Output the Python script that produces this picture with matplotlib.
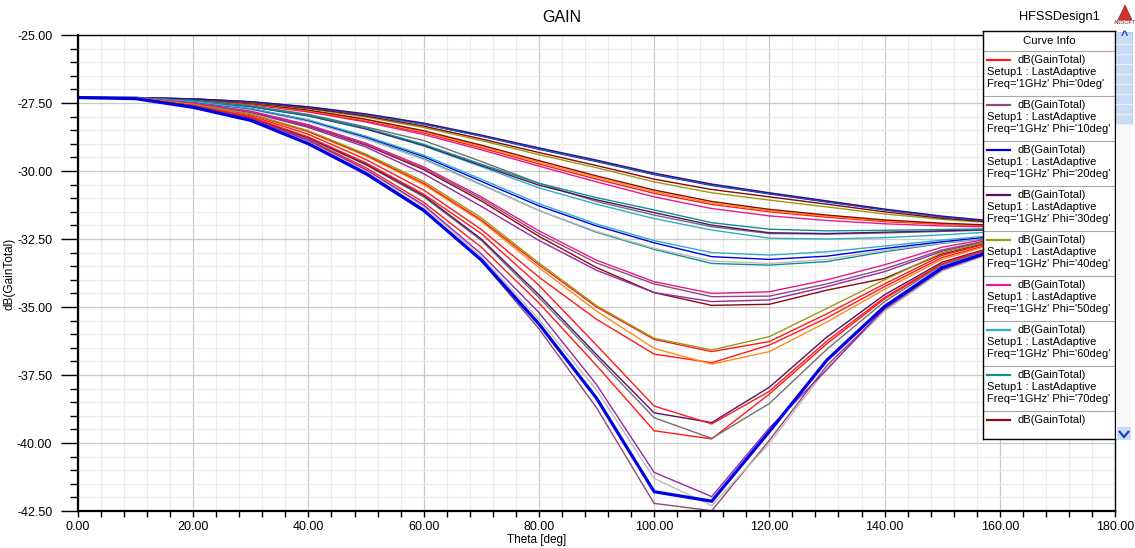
import numpy as np
import matplotlib.pyplot as plt
from matplotlib.patches import Rectangle, Polygon
from matplotlib.ticker import MultipleLocator, FormatStrFormatter

plt.rcParams['font.family'] = ['Liberation Sans', 'DejaVu Sans']

W, H = 1135, 548

theta = [0, 10, 20, 30, 40, 50, 60, 70, 80, 90, 100, 110, 120, 130, 140, 150, 160, 170, 180]

# deepest null group
a_blue = [-27.30, -27.34, -27.66, -28.14, -29.00, -30.10, -31.45, -33.27, -35.62, -38.35, -41.79, -42.14, -39.58, -36.95, -34.98, -33.55, -32.85, -32.35, -32.10]
a_mauve = [-27.30, -27.35, -27.66, -28.12, -28.96, -30.05, -31.40, -33.30, -35.80, -38.70, -42.22, -42.49, -39.90, -37.15, -35.10, -33.65, -32.90, -32.38, -32.10]
a_lgray = [-27.30, -27.34, -27.64, -28.10, -28.92, -29.98, -31.30, -33.15, -35.45, -38.05, -41.30, -42.30, -40.02, -37.25, -35.15, -33.68, -32.92, -32.40, -32.10]
a_purple = [-27.30, -27.34, -27.63, -28.08, -28.88, -29.95, -31.25, -33.05, -35.20, -37.85, -41.08, -41.97, -39.45, -37.30, -35.05, -33.62, -32.88, -32.36, -32.10]

b_red1 = [-27.30, -27.33, -27.60, -28.02, -28.75, -29.70, -30.85, -32.30, -34.20, -36.40, -38.64, -39.30, -38.10, -36.25, -34.65, -33.40, -32.75, -32.30, -32.10]
b_dpurple = [-27.30, -27.33, -27.60, -28.03, -28.78, -29.75, -30.90, -32.50, -34.55, -36.75, -38.89, -39.25, -37.95, -36.10, -34.55, -33.35, -32.72, -32.28, -32.10]
b_gray = [-27.30, -27.33, -27.61, -28.04, -28.80, -29.78, -30.95, -32.55, -34.65, -36.85, -39.07, -39.83, -38.55, -36.55, -34.80, -33.45, -32.78, -32.32, -32.10]
b_red2 = [-27.30, -27.34, -27.62, -28.06, -28.85, -29.88, -31.15, -32.80, -34.85, -37.15, -39.55, -39.85, -38.20, -36.35, -34.70, -33.42, -32.76, -32.31, -32.10]

c_olive = [-27.30, -27.32, -27.55, -27.90, -28.52, -29.38, -30.38, -31.72, -33.38, -34.95, -36.15, -36.58, -36.09, -35.05, -34.00, -33.00, -32.50, -32.22, -32.10]
c_red1 = [-27.30, -27.32, -27.56, -27.92, -28.55, -29.42, -30.45, -31.80, -33.45, -35.00, -36.19, -36.64, -36.27, -35.25, -34.15, -33.10, -32.55, -32.24, -32.10]
c_orange = [-27.30, -27.32, -27.56, -27.93, -28.56, -29.45, -30.50, -31.85, -33.55, -35.15, -36.52, -37.10, -36.64, -35.55, -34.35, -33.25, -32.62, -32.27, -32.10]
c_red2 = [-27.30, -27.33, -27.58, -27.97, -28.65, -29.58, -30.70, -32.15, -33.90, -35.45, -36.73, -37.05, -36.40, -35.40, -34.25, -33.18, -32.60, -32.26, -32.10]

d_magenta = [-27.30, -27.31, -27.50, -27.80, -28.30, -28.98, -29.85, -30.95, -32.20, -33.28, -34.07, -34.50, -34.44, -34.00, -33.45, -32.80, -32.42, -32.20, -32.10]
d_mauve = [-27.30, -27.32, -27.51, -27.82, -28.33, -29.02, -29.90, -31.02, -32.30, -33.38, -34.15, -34.62, -34.60, -34.15, -33.60, -32.90, -32.46, -32.22, -32.10]
d_purple = [-27.30, -27.32, -27.52, -27.85, -28.40, -29.12, -30.10, -31.30, -32.55, -33.65, -34.47, -34.80, -34.74, -34.25, -33.70, -32.95, -32.48, -32.23, -32.10]
d_maroon = [-27.30, -27.32, -27.51, -27.83, -28.35, -29.05, -29.95, -31.10, -32.40, -33.55, -34.47, -34.94, -34.90, -34.38, -33.95, -33.05, -32.52, -32.25, -32.10]

e_cyan = [-27.30, -27.31, -27.45, -27.70, -28.12, -28.72, -29.42, -30.30, -31.20, -31.95, -32.56, -33.00, -33.09, -32.97, -32.76, -32.54, -32.35, -32.20, -32.10]
e_blue = [-27.30, -27.31, -27.46, -27.71, -28.14, -28.75, -29.47, -30.38, -31.28, -32.02, -32.64, -33.15, -33.25, -33.13, -32.85, -32.60, -32.38, -32.21, -32.10]
e_lgray = [-27.30, -27.31, -27.47, -27.73, -28.18, -28.82, -29.58, -30.52, -31.45, -32.22, -32.84, -33.31, -33.40, -33.25, -32.92, -32.64, -32.40, -32.22, -32.10]
e_teal = [-27.30, -27.31, -27.47, -27.73, -28.17, -28.80, -29.55, -30.50, -31.45, -32.25, -32.88, -33.40, -33.46, -33.33, -32.97, -32.66, -32.42, -32.23, -32.10]

f_teal = [-27.30, -27.31, -27.42, -27.62, -27.95, -28.42, -29.02, -29.75, -30.45, -30.98, -31.43, -31.90, -32.14, -32.20, -32.18, -32.15, -32.12, -32.10, -32.10]
f_dpurple = [-27.30, -27.31, -27.42, -27.63, -27.97, -28.45, -29.06, -29.80, -30.52, -31.06, -31.53, -31.99, -32.27, -32.30, -32.25, -32.20, -32.15, -32.12, -32.10]
f_gray = [-27.30, -27.31, -27.41, -27.60, -27.92, -28.38, -28.88, -29.65, -30.45, -31.12, -31.62, -32.05, -32.30, -32.32, -32.28, -32.22, -32.16, -32.12, -32.10]
f_cyan = [-27.30, -27.31, -27.43, -27.64, -27.98, -28.46, -29.08, -29.84, -30.62, -31.22, -31.75, -32.17, -32.47, -32.50, -32.45, -32.35, -32.22, -32.14, -32.10]

g_indigo = [-27.30, -27.30, -27.35, -27.45, -27.64, -27.90, -28.24, -28.68, -29.15, -29.60, -30.08, -30.48, -30.80, -31.10, -31.40, -31.66, -31.86, -32.00, -32.10]
g_teal = [-27.30, -27.30, -27.35, -27.46, -27.65, -27.92, -28.27, -28.71, -29.18, -29.63, -30.11, -30.51, -30.82, -31.12, -31.42, -31.68, -31.87, -32.01, -32.10]
g_blue = [-27.30, -27.30, -27.35, -27.46, -27.66, -27.93, -28.28, -28.72, -29.20, -29.65, -30.13, -30.53, -30.84, -31.14, -31.43, -31.69, -31.88, -32.02, -32.10]
g_maroon1 = [-27.30, -27.30, -27.36, -27.48, -27.69, -27.98, -28.35, -28.82, -29.32, -29.80, -30.30, -30.68, -30.95, -31.22, -31.50, -31.74, -31.90, -32.03, -32.10]
g_olive = [-27.30, -27.30, -27.36, -27.49, -27.71, -28.02, -28.40, -28.88, -29.40, -29.88, -30.40, -30.80, -31.07, -31.32, -31.58, -31.78, -31.92, -32.04, -32.10]
g_maroon2 = [-27.30, -27.31, -27.37, -27.52, -27.76, -28.10, -28.52, -29.05, -29.62, -30.18, -30.70, -31.12, -31.41, -31.62, -31.80, -31.92, -32.00, -32.06, -32.10]
g_orange = [-27.30, -27.31, -27.38, -27.53, -27.78, -28.13, -28.56, -29.10, -29.68, -30.24, -30.76, -31.18, -31.46, -31.66, -31.83, -31.94, -32.01, -32.06, -32.10]
g_red = [-27.30, -27.31, -27.38, -27.54, -27.80, -28.16, -28.60, -29.15, -29.74, -30.30, -30.82, -31.23, -31.50, -31.70, -31.86, -31.96, -32.02, -32.07, -32.10]
g_magenta = [-27.30, -27.31, -27.39, -27.56, -27.83, -28.20, -28.66, -29.22, -29.82, -30.40, -30.95, -31.38, -31.65, -31.82, -31.94, -32.02, -32.06, -32.08, -32.10]

legend_phi = ['0deg', '10deg', '20deg', '30deg', '40deg', '50deg', '60deg', '70deg']

RED = '#ff1a1a'
MAUVE = '#8e4a78'
BLUE = '#0000e6'
DPURPLE = '#55106a'
OLIVE = '#9a9a14'
MAGENTA = '#e6198f'
CYAN = '#30afc8'
TEAL = '#10908c'
MAROON = '#8b0a0a'
ORANGE = '#ff8c1a'
GRAY = '#707070'
LGRAY = '#bdbdbd'
PURPLE = '#9528a8'
INDIGO = '#3a0a8a'

curves = [
    (g_magenta, MAGENTA, 1), (g_red, RED, 1), (g_orange, ORANGE, 1), (g_maroon2, MAROON, 1),
    (g_olive, OLIVE, 1), (g_maroon1, MAROON, 1), (g_blue, BLUE, 1), (g_teal, TEAL, 1), (g_indigo, INDIGO, 1),
    (f_cyan, CYAN, 1), (f_gray, GRAY, 1), (f_dpurple, DPURPLE, 1), (f_teal, TEAL, 1),
    (e_teal, TEAL, 1), (e_lgray, LGRAY, 1), (e_blue, BLUE, 1), (e_cyan, CYAN, 1),
    (d_maroon, MAROON, 1), (d_purple, PURPLE, 1), (d_mauve, MAUVE, 1), (d_magenta, MAGENTA, 1),
    (c_red2, RED, 1), (c_orange, ORANGE, 1), (c_red1, RED, 1), (c_olive, OLIVE, 1),
    (b_red2, RED, 1), (b_gray, GRAY, 1), (b_dpurple, DPURPLE, 1), (b_red1, RED, 1),
    (a_mauve, MAUVE, 1), (a_lgray, LGRAY, 1), (a_purple, PURPLE, 1), (a_blue, BLUE, 2.3),
]
legend_colors = [RED, MAUVE, BLUE, DPURPLE, OLIVE, MAGENTA, CYAN, TEAL, MAROON]


def fx(x):
    return x / W


def fy(y):
    return 1 - y / H


fig = plt.figure(figsize=(W / 100, H / 100), dpi=100)
ax = fig.add_axes([fx(78), fy(511), (1115 - 78) / W, (511 - 35) / H])

for vals, col, lw in curves:
    ax.plot(theta, vals, color=col, lw=lw, solid_joinstyle='miter')

ax.set_xlim(0, 180)
ax.set_ylim(-42.5, -25)
ax.xaxis.set_major_locator(MultipleLocator(20))
ax.xaxis.set_minor_locator(MultipleLocator(4))
ax.yaxis.set_major_locator(MultipleLocator(2.5))
ax.yaxis.set_minor_locator(MultipleLocator(0.5))
ax.xaxis.set_major_formatter(FormatStrFormatter('%.2f'))
ax.yaxis.set_major_formatter(FormatStrFormatter('%.2f'))
ax.grid(which='major', color='#c8c8c8', lw=0.9)
ax.grid(which='minor', color='#ebebeb', lw=0.9)
ax.set_axisbelow(True)
ax.tick_params(axis='y', which='major', direction='out', length=12.5, width=1, pad=6, labelsize=9)
ax.tick_params(axis='y', which='minor', direction='out', length=6, width=1)
ax.tick_params(axis='x', which='both', direction='out', length=4, width=1, pad=3, labelsize=9)
for s in ['left', 'bottom']:
    ax.spines[s].set_linewidth(1.6)
for s in ['top', 'right']:
    ax.spines[s].set_linewidth(1.0)

fig.text(fx(562), fy(18), 'GAIN', ha='center', va='center', fontsize=11.5)
fig.text(fx(1059), fy(17), 'HFSSDesign1', ha='center', va='center', fontsize=9.2)
fig.text(fx(537), fy(540), 'Theta [deg]', ha='center', va='center', fontsize=8.5)
fig.text(fx(10), fy(274), 'dB(GainTotal)', ha='center', va='center', rotation=90, fontsize=8.5)

# ansoft logo
fig.add_artist(Polygon([(fx(1118), fy(20)), (fx(1132), fy(20)), (fx(1125), fy(5))],
                       closed=True, facecolor='#d03030', edgecolor='#902020', lw=0.5, transform=fig.transFigure))
fig.text(fx(1125), fy(23), 'ANSOFT', ha='center', va='center', fontsize=4, color='#902020')

# legend box
lg = fig.add_axes([fx(983), fy(439), 132 / W, 408 / H])
lg.set_xlim(0, 132)
lg.set_ylim(408, 0)
lg.set_xticks([])
lg.set_yticks([])
lg.set_facecolor('white')
for s in lg.spines.values():
    s.set_linewidth(1.0)
    s.set_color('black')
lg.text(66, 10, 'Curve Info', ha='center', va='center', fontsize=8.2)
for k in range(9):
    top = 19.7 + 45 * k
    lg.plot([0, 132], [top, top], color='#a8a8a8', lw=0.8)
    lg.plot([4, 27], [top + 9.6, top + 9.6], color=legend_colors[k], lw=1.6)
    lg.text(34, top + 9.6, 'dB(GainTotal)', ha='left', va='center', fontsize=8.0)
    if k < len(legend_phi):
        lg.text(4, top + 21.6, 'Setup1 : LastAdaptive', ha='left', va='center', fontsize=8.0)
        lg.text(4, top + 33.6, "Freq='1GHz' Phi='%s'" % legend_phi[k], ha='left', va='center', fontsize=8.0)

# scroll bar
fig.add_artist(Rectangle((fx(1116), fy(125)), 16 / W, 93 / H, facecolor='#c9dcf3', edgecolor='#a9c3e6',
                         lw=0.5, transform=fig.transFigure))
for yy in range(44, 125, 10):
    fig.add_artist(plt.Line2D([fx(1116), fx(1132)], [fy(yy), fy(yy)], color='#e4eefa', lw=0.8,
                              transform=fig.transFigure))
fig.add_artist(Rectangle((fx(1116), fy(439)), 16 / W, 314 / H, facecolor='#f7f7f7', edgecolor='none',
                         transform=fig.transFigure))
fig.text(fx(1124), fy(36), '^', ha='center', va='center', fontsize=9, color='#1a3fbf', fontweight='bold')
fig.add_artist(Rectangle((fx(1117), fy(440)), 14 / W, 13 / H, facecolor='#c9dcf3', edgecolor='none',
                         transform=fig.transFigure))
fig.add_artist(Polygon([(fx(1119), fy(431)), (fx(1124), fy(437)), (fx(1129), fy(431))], closed=False,
                       fill=False, edgecolor='#1a3fbf', lw=1.6, transform=fig.transFigure))

fig.savefig('out.png', dpi=100)
